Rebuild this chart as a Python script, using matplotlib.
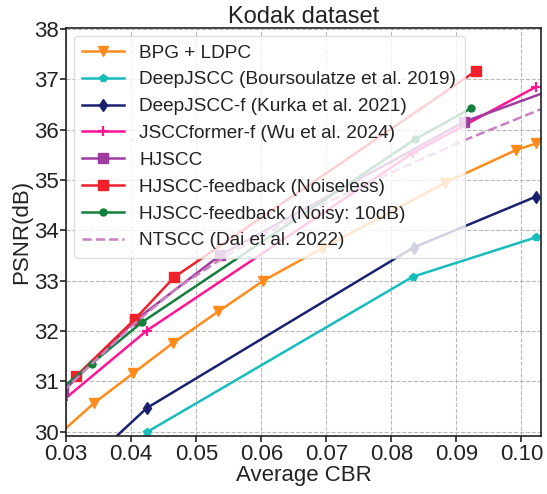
import matplotlib
matplotlib.use("Agg")
import matplotlib.pyplot as plt

plt.rcParams['font.family'] = ['Liberation Sans', 'DejaVu Sans']

# Data (CBR, PSNR)
bpg_x = [0.0285, 0.0343, 0.0403, 0.0464, 0.0534, 0.0603, 0.0693, 0.0883, 0.0992, 0.1023]
bpg_y = [29.90, 30.57, 31.16, 31.76, 32.39, 33.00, 33.64, 34.95, 35.60, 35.73]

deepjscc_x = [0.0424, 0.0833, 0.1022]
deepjscc_y = [29.99, 33.08, 33.86]

deepjsccf_x = [0.0365, 0.0424, 0.0834, 0.1022]
deepjsccf_y = [29.76, 30.47, 33.66, 34.67]

jsccformer_x = [0.0295, 0.0424, 0.0833, 0.1022]
jsccformer_y = [30.62, 32.01, 35.54, 36.85]

hjscc_x = [0.0295, 0.0406, 0.0537, 0.0912, 0.115]
hjscc_y = [30.80, 32.21, 33.51, 36.16, 37.28]

fb_clean_x = [0.0315, 0.0406, 0.0466, 0.0930]
fb_clean_y = [31.10, 32.24, 33.07, 37.17]

fb_noisy_x = [0.0295, 0.0339, 0.0416, 0.0836, 0.0923]
fb_noisy_y = [30.88, 31.35, 32.17, 35.81, 36.43]

ntscc_x = [0.0295, 0.0315, 0.0405, 0.0470, 0.0537, 0.0600, 0.0700, 0.0800, 0.0910, 0.1032, 0.110]
ntscc_y = [30.80, 31.05, 32.15, 32.85, 33.42, 33.90, 34.55, 35.15, 35.78, 36.42, 36.75]

plt.figure(figsize=(5.47, 4.94), dpi=100)
ax = plt.gca()

ax.plot(bpg_x, bpg_y, color='#ff8c1a', marker='v', markersize=6.5, lw=1.8, label='BPG + LDPC')
ax.plot(deepjscc_x, deepjscc_y, color='#17bcbc', marker='p', markersize=6, lw=1.8,
        label='DeepJSCC (Boursoulatze et al. 2019)')
ax.plot(deepjsccf_x, deepjsccf_y, color='#1a2270', marker='d', markersize=6.5, lw=1.8,
        label='DeepJSCC-f (Kurka et al. 2021)')
ax.plot(jsccformer_x, jsccformer_y, color='#ff1493', marker='+', markersize=7, mew=1.6, lw=1.8,
        label='JSCCformer-f (Wu et al. 2024)')
ax.plot(hjscc_x, hjscc_y, color='#a03ca0', marker='s', markersize=6.5, lw=1.8, label='HJSCC')
ax.plot(fb_clean_x, fb_clean_y, color='#f0202a', marker='s', markersize=6.5, lw=1.8,
        label='HJSCC-feedback (Noiseless)')
ax.plot(fb_noisy_x, fb_noisy_y, color='#12803c', marker='o', markersize=5, lw=1.8,
        label='HJSCC-feedback (Noisy: 10dB)')
ax.plot(ntscc_x, ntscc_y, color='#cc80c4', ls='--', lw=1.8, label='NTSCC (Dai et al. 2022)')

ax.set_xlim(0.03, 0.103)
ax.set_ylim(29.91, 38.02)
ax.set_xticks([0.03, 0.04, 0.05, 0.06, 0.07, 0.08, 0.09, 0.10])
ax.set_xticklabels(['0.03', '0.04', '0.05', '0.06', '0.07', '0.08', '0.09', '0.10'])
ax.set_yticks(range(30, 39))

ax.grid(True, ls='--', color='#b8b8b8', lw=0.8)
for s in ax.spines.values():
    s.set_color('#222222')
    s.set_linewidth(1.2)
ax.tick_params(labelsize=16, length=4, width=1.2, colors='#222222', pad=1.5)

ax.set_xlabel('Average CBR', fontsize=16, color='#222222', labelpad=0)
ax.set_ylabel('PSNR(dB)', fontsize=16, color='#222222', labelpad=1)
ax.set_title('Kodak dataset', fontsize=17, color='#222222', pad=2)

leg = ax.legend(loc='upper left', fontsize=13.7, framealpha=0.8, fancybox=True,
                edgecolor='#d8d8d8', borderpad=0.45, labelspacing=0.5, handlelength=2.2,
                borderaxespad=0.4)
for t in leg.get_texts():
    t.set_color('#222222')

plt.subplots_adjust(left=0.121, right=0.989, top=0.943, bottom=0.117)
plt.savefig('out.png', dpi=100)
